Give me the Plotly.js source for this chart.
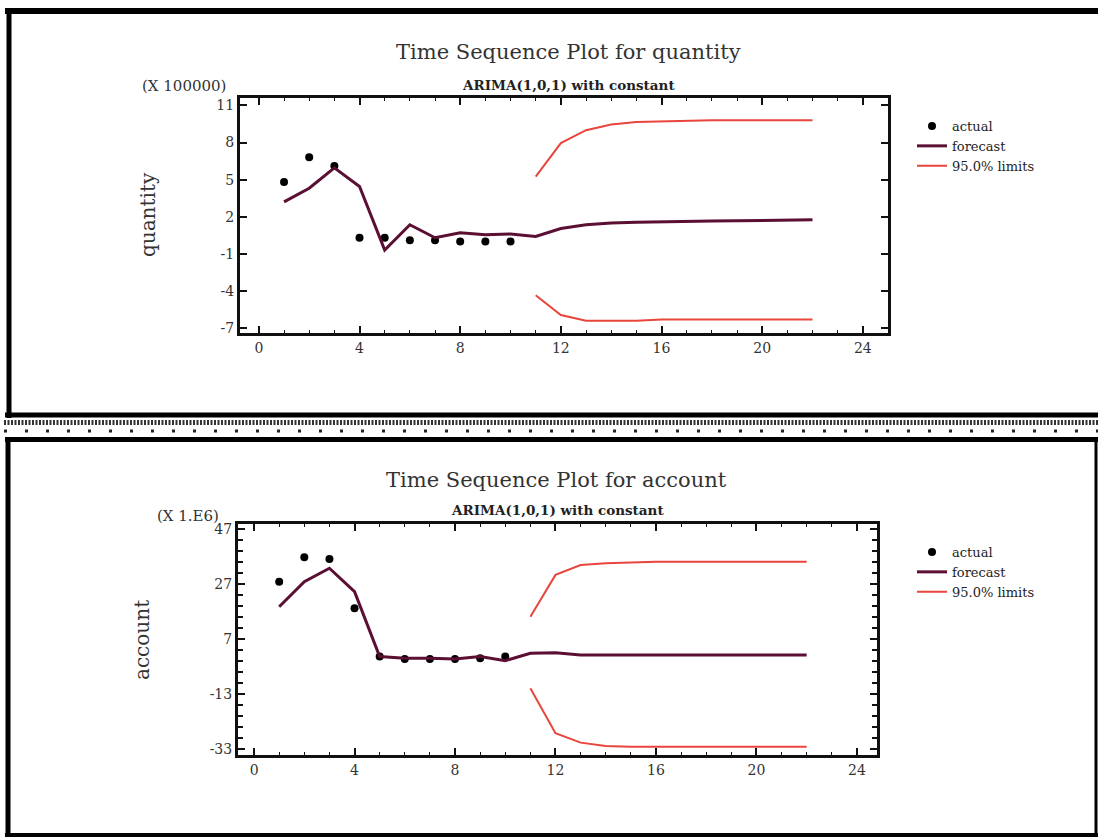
<!DOCTYPE html>
<html>
<head>
<meta charset="utf-8">
<script src="https://cdn.plot.ly/plotly-3.0.1.min.js"></script>
<style>html,body{margin:0;padding:0;background:#fff;}#chart{width:1098px;height:840px;}</style>
</head>
<body>
<div id="chart"></div>
<script>
// ---------- data: quantity (units of 100000) ----------
const qActualX = [1, 2, 3, 4, 5, 6, 7, 8, 9, 10];
const qActualY = [4.8, 6.8, 6.1, 0.3, 0.3, 0.1, 0.1, 0.0, 0.0, 0.0];
const qForecastX = [1, 2, 3, 4, 5, 6, 7, 8, 9, 10, 11, 12, 13, 14, 15, 16, 17, 18, 19, 20, 21, 22];
const qForecastY = [3.2, 4.3, 5.95, 4.45, -0.7, 1.35, 0.3, 0.7, 0.55, 0.6, 0.4, 1.05, 1.35, 1.5, 1.55, 1.6, 1.62, 1.65, 1.68, 1.7, 1.72, 1.75];
const qLimX = [11, 12, 13, 14, 15, 16, 17, 18, 19, 20, 21, 22];
const qUpper = [5.25, 7.95, 9.0, 9.45, 9.65, 9.72, 9.75, 9.8, 9.8, 9.8, 9.8, 9.8];
const qLower = [-4.35, -5.95, -6.4, -6.4, -6.4, -6.3, -6.3, -6.3, -6.3, -6.3, -6.3, -6.3];
const qYTicks = [-7, -4, -1, 2, 5, 8, 11];

// ---------- data: account (units of 1E6) ----------
const aActualX = [1, 2, 3, 4, 5, 6, 7, 8, 9, 10];
const aActualY = [27.8, 36.7, 36.1, 18.2, 0.6, -0.3, -0.3, -0.3, 0.0, 0.6];
const aForecastX = [1, 2, 3, 4, 5, 6, 7, 8, 9, 10, 11, 12, 13, 14, 15, 16, 17, 18, 19, 20, 21, 22];
const aForecastY = [18.7, 27.8, 32.7, 24.2, 0.6, 0.0, 0.0, -0.3, 0.6, -0.9, 1.8, 2.0, 1.2, 1.2, 1.2, 1.2, 1.2, 1.2, 1.2, 1.2, 1.2, 1.2];
const aLimX = [11, 12, 13, 14, 15, 16, 17, 18, 19, 20, 21, 22];
const aUpper = [15.1, 30.3, 33.9, 34.5, 34.8, 35.1, 35.1, 35.1, 35.1, 35.1, 35.1, 35.1];
const aLower = [-10.9, -27.3, -30.7, -31.9, -32.2, -32.2, -32.2, -32.2, -32.2, -32.2, -32.2, -32.2];
const aYTicks = [-33, -13, 7, 27, 47];

const xTicks = [0, 4, 8, 12, 16, 20, 24];

const W = 1098, H = 840;
const px = v => v / W;
const py = v => 1 - v / H;

const FONT = 'DejaVu Serif, Liberation Serif, serif';
const FC = '#5a0f33';
const LC = '#e8453c';

const traces = [
  {x: qActualX, y: qActualY, type: 'scatter', mode: 'markers', name: 'actual',
   marker: {color: '#000', size: 8}, xaxis: 'x', yaxis: 'y', legend: 'legend', legendgroup: 'qa'},
  {x: qForecastX, y: qForecastY, type: 'scatter', mode: 'lines', name: 'forecast',
   line: {color: FC, width: 3}, xaxis: 'x', yaxis: 'y', legend: 'legend', legendgroup: 'qf'},
  {x: qLimX, y: qUpper, type: 'scatter', mode: 'lines', name: '95.0% limits',
   line: {color: LC, width: 2}, xaxis: 'x', yaxis: 'y', legend: 'legend', legendgroup: 'ql'},
  {x: qLimX, y: qLower, type: 'scatter', mode: 'lines', name: '95.0% limits', showlegend: false,
   line: {color: LC, width: 2}, xaxis: 'x', yaxis: 'y', legendgroup: 'ql'},

  {x: aActualX, y: aActualY, type: 'scatter', mode: 'markers', name: 'actual',
   marker: {color: '#000', size: 8}, xaxis: 'x2', yaxis: 'y2', legend: 'legend2', legendgroup: 'aa'},
  {x: aForecastX, y: aForecastY, type: 'scatter', mode: 'lines', name: 'forecast',
   line: {color: FC, width: 3}, xaxis: 'x2', yaxis: 'y2', legend: 'legend2', legendgroup: 'af'},
  {x: aLimX, y: aUpper, type: 'scatter', mode: 'lines', name: '95.0% limits',
   line: {color: LC, width: 2}, xaxis: 'x2', yaxis: 'y2', legend: 'legend2', legendgroup: 'al'},
  {x: aLimX, y: aLower, type: 'scatter', mode: 'lines', name: '95.0% limits', showlegend: false,
   line: {color: LC, width: 2}, xaxis: 'x2', yaxis: 'y2', legendgroup: 'al'}
];

function axisBase() {
  return {
    showgrid: false, zeroline: false, showline: true, mirror: 'allticks',
    linecolor: '#111', linewidth: 3, ticks: 'inside', ticklen: 7, tickwidth: 2, tickcolor: '#111',
    tickfont: {family: FONT, size: 14, color: '#333'}, fixedrange: true
  };
}

const xa1 = Object.assign(axisBase(), {
  domain: [px(240), px(888)], anchor: 'y', range: [-0.75, 25],
  tickmode: 'array', tickvals: xTicks, ticktext: xTicks.map(String),
  minor: {dtick: 1, tick0: 0, ticks: 'inside', ticklen: 3, tickwidth: 1, tickcolor: '#111'}
});
const ya1 = Object.assign(axisBase(), {
  domain: [py(333), py(98)], anchor: 'x', range: [-7.4, 11.6],
  tickmode: 'array', tickvals: qYTicks, ticktext: qYTicks.map(String)
});
const xa2 = Object.assign(axisBase(), {
  domain: [px(238), px(877)], anchor: 'y2', range: [-0.64, 24.8],
  tickmode: 'array', tickvals: xTicks, ticktext: xTicks.map(String),
  minor: {dtick: 1, tick0: 0, ticks: 'inside', ticklen: 3, tickwidth: 1, tickcolor: '#111'}
});
const ya2 = Object.assign(axisBase(), {
  domain: [py(755), py(524)], anchor: 'x2', range: [-35.2, 48.8],
  tickmode: 'array', tickvals: aYTicks, ticktext: aYTicks.map(String),
  minor: {dtick: 4, tick0: -33, ticks: 'inside', ticklen: 5, tickwidth: 2, tickcolor: '#111'}
});

function ann(text, x, y, size, opts) {
  return Object.assign({text, x: px(x), y: py(y), xref: 'paper', yref: 'paper', showarrow: false,
    xanchor: 'center', yanchor: 'middle', font: {family: FONT, size, color: '#333'}}, opts || {});
}

const annotations = [
  ann('Time Sequence Plot for quantity', 568, 52, 21),
  ann('<b>ARIMA(1,0,1) with constant</b>', 569, 85, 13.5, {font: {family: FONT, size: 13.5, color: '#222'}}),
  ann('(X 100000)', 184, 86, 15),
  ann('quantity', 148, 215, 20, {textangle: -90}),
  ann('Time Sequence Plot for account', 556, 480, 21),
  ann('<b>ARIMA(1,0,1) with constant</b>', 557, 510, 13.5, {font: {family: FONT, size: 13.5, color: '#222'}}),
  ann('(X 1.E6)', 188, 516, 15),
  ann('account', 142, 640, 20, {textangle: -90})
];

const BK = '#000';
function hline(x0, x1, y, w, extra) {
  return Object.assign({type: 'line', xref: 'paper', yref: 'paper', x0: px(x0), x1: px(x1), y0: py(y), y1: py(y),
    line: {color: BK, width: w}}, extra || {});
}
function vline(x, y0, y1, w, extra) {
  return Object.assign({type: 'line', xref: 'paper', yref: 'paper', x0: px(x), x1: px(x), y0: py(y0), y1: py(y1),
    line: {color: BK, width: w}}, extra || {});
}

const shapes = [
  // top panel frame
  hline(5, 1110, 11, 6),
  vline(9, 8, 418, 5),
  hline(5, 1110, 415, 5),
  // dotted separators
  hline(4, 1110, 422.5, 5, {line: {color: '#333', width: 5, dash: '2px,1.5px'}}),
  hline(4, 1110, 431, 3, {line: {color: '#222', width: 3, dash: '3px,18px'}}),
  // bottom panel frame
  hline(5, 1110, 439.5, 5),
  vline(8, 437, 837, 5),
  hline(5, 1110, 835, 4),
  vline(1096, 437, 837, 3)
];

const legendFont = {family: FONT, size: 13, color: '#222'};
const layout = {
  width: W, height: H,
  margin: {l: 0, r: 0, t: 0, b: 0},
  paper_bgcolor: '#fff', plot_bgcolor: '#fff',
  showlegend: true,
  xaxis: xa1, yaxis: ya1, xaxis2: xa2, yaxis2: ya2,
  legend: {x: px(912), y: py(111), xanchor: 'left', yanchor: 'top', bgcolor: 'rgba(0,0,0,0)',
    font: legendFont, tracegroupgap: 0, itemclick: false},
  legend2: {x: px(912), y: py(537), xanchor: 'left', yanchor: 'top', bgcolor: 'rgba(0,0,0,0)',
    font: legendFont, tracegroupgap: 0, itemclick: false},
  annotations, shapes
};

Plotly.newPlot('chart', traces, layout, {staticPlot: true, displayModeBar: false});
</script>
</body>
</html>
